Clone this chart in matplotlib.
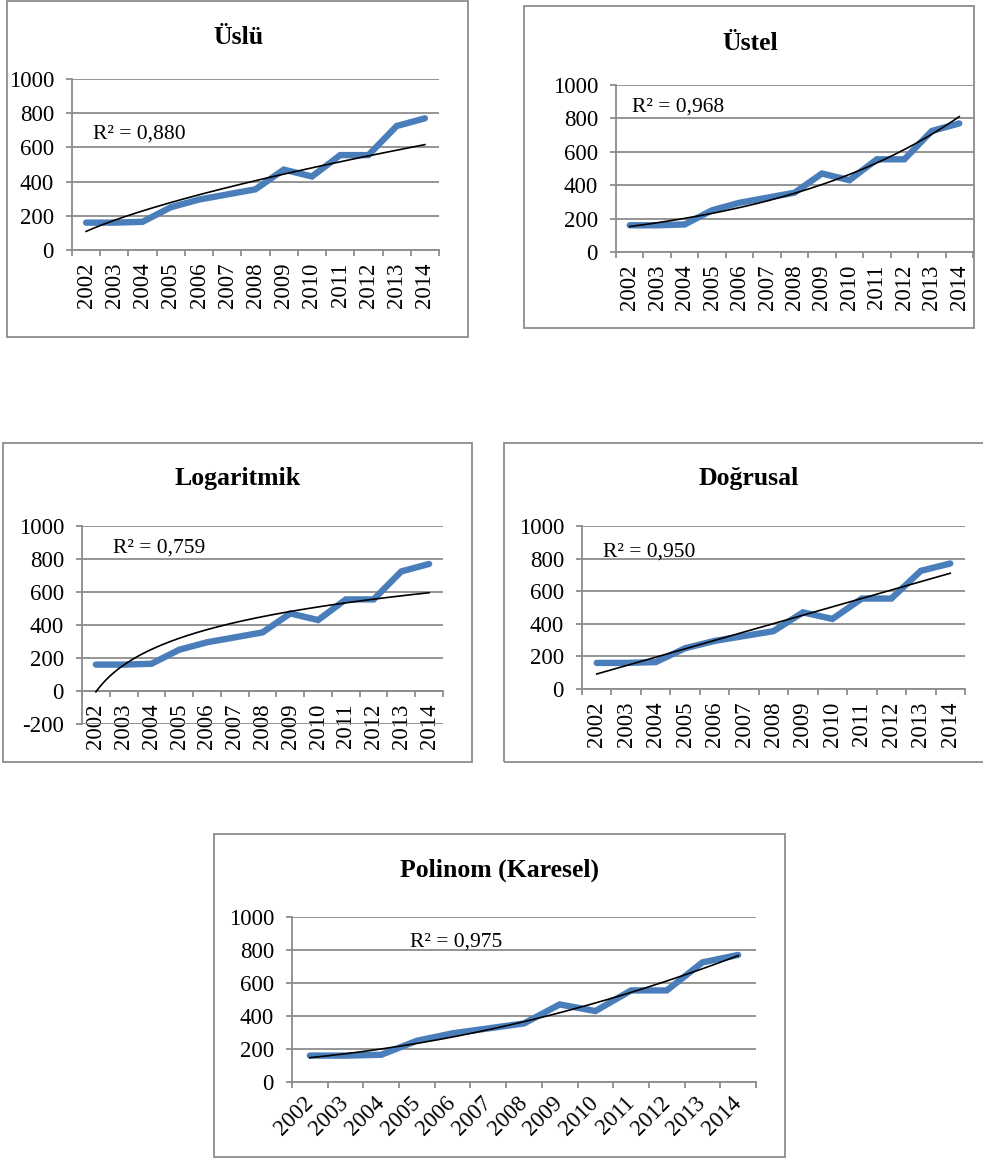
import numpy as np
import matplotlib
matplotlib.use("Agg")
import matplotlib.pyplot as plt
from matplotlib.patches import Rectangle

plt.rcParams['font.family'] = ['Liberation Serif', 'DejaVu Serif']

# ---- data ----
years = ['2002', '2003', '2004', '2005', '2006', '2007', '2008',
         '2009', '2010', '2011', '2012', '2013', '2014']
values = [160, 160, 165, 250, 295, 325, 355, 470, 430, 555, 555, 725, 770]
titles = ['Üslü', 'Üstel', 'Logaritmik', 'Doğrusal', 'Polinom (Karesel)']
r2_labels = ['R² = 0,880', 'R² = 0,968', 'R² = 0,759', 'R² = 0,950', 'R² = 0,975']
y_ticks_main = [0, 200, 400, 600, 800, 1000]
y_ticks_log = [-200, 0, 200, 400, 600, 800, 1000]

W, H = 983, 1158
fig = plt.figure(figsize=(W / 100, H / 100), dpi=100)

BLUE = '#4A7EBB'
GRAY = '#8C8C8C'
TICK_FS = 16.5

x = np.arange(1, len(values) + 1, dtype=float)
y = np.array(values, dtype=float)
xs = np.linspace(1, len(values), 300)


def trend(kind):
    if kind == 'power':
        b, la = np.polyfit(np.log(x), np.log(y), 1)
        return np.exp(la) * xs ** b
    if kind == 'exp':
        b, la = np.polyfit(x, np.log(y), 1)
        return np.exp(la) * np.exp(b * xs)
    if kind == 'log':
        b, a = np.polyfit(np.log(x), y, 1)
        return a + b * np.log(xs)
    if kind == 'lin':
        return np.polyval(np.polyfit(x, y, 1), xs)
    return np.polyval(np.polyfit(x, y, 2), xs)


def fx(px):
    return px / W


def fy(py):
    return 1 - py / H


def border(l, t, r, b):
    fig.add_artist(Rectangle((fx(l), fy(b)), fx(r) - fx(l), fy(t) - fy(b),
                             transform=fig.transFigure, fill=False,
                             ec=GRAY, lw=1.3, zorder=0))


def panel(box, axbox, title, title_xy, r2, r2_xy, kind, ylim, yticks, rot):
    border(*box)
    l, t, r, b = axbox
    ax = fig.add_axes([fx(l), fy(b), fx(r) - fx(l), fy(t) - fy(b)])
    pos = np.arange(len(values))
    ax.plot(pos, values, color=BLUE, lw=4.6, solid_capstyle='round',
            solid_joinstyle='miter', zorder=3)
    ax.plot(xs - 1, trend(kind), color='black', lw=1.2, zorder=4)
    ax.set_xlim(-0.5, len(values) - 0.5)
    ax.set_ylim(*ylim)
    ax.set_yticks(yticks)
    ax.set_yticklabels([str(v) for v in yticks])
    ax.grid(axis='y', color=GRAY, lw=1.3, zorder=1)
    ax.set_axisbelow(True)
    for s in ['top', 'right']:
        ax.spines[s].set_visible(False)
    for s in ['left', 'bottom']:
        ax.spines[s].set_color(GRAY)
        ax.spines[s].set_linewidth(1.3)
    if ylim[0] < 0:
        ax.spines['bottom'].set_position(('data', 0))
    ax.set_xticks(np.arange(-0.5, len(values), 1.0))
    ax.set_xticklabels([])
    ax.set_xticks(pos, minor=True)
    ax.tick_params(axis='x', which='major', direction='out', length=4.5,
                   width=1.3, color=GRAY)
    ax.tick_params(axis='y', which='major', direction='out', length=4,
                   width=1.3, color=GRAY, labelsize=TICK_FS, pad=9)
    if rot == 90:
        ax.set_xticklabels(years, minor=True, rotation=90, fontsize=TICK_FS)
        ax.tick_params(axis='x', which='minor', length=0, pad=9)
    else:
        ax.set_xticklabels(years, minor=True, rotation=45, fontsize=TICK_FS,
                           ha='right', va='center', rotation_mode='anchor')
        ax.tick_params(axis='x', which='minor', length=0, pad=13)
    ax.set_facecolor('none')
    fig.text(fx(title_xy[0]), fy(title_xy[1]), title, ha='center',
             va='center', fontsize=18.5, fontweight='bold')
    fig.text(fx(r2_xy[0]), fy(r2_xy[1]), r2, ha='left', va='center',
             fontsize=15.5)
    return ax


panel((7, 0.5, 468, 337), (72, 79, 439, 250), titles[0], (238, 37),
      r2_labels[0], (93, 134), 'power', (0, 1000), y_ticks_main, 90)
panel((524, 6, 974, 328), (616, 85, 973, 252), titles[1], (750, 43),
      r2_labels[1], (632, 107), 'exp', (0, 1000), y_ticks_main, 90)
panel((3, 443, 472, 762), (82, 526, 443, 724), titles[2], (238, 479),
      r2_labels[2], (113, 548), 'log', (-200, 1000), y_ticks_log, 90)
panel((504, 443, 995, 762), (582, 526, 965, 689), titles[3], (749, 479),
      r2_labels[3], (603, 552), 'lin', (0, 1000), y_ticks_main, 90)
panel((214, 834, 785, 1157), (292, 917, 756, 1082), titles[4], (499, 870),
      r2_labels[4], (410, 942), 'poly', (0, 1000), y_ticks_main, 45)

fig.savefig('out.png', dpi=100, facecolor='white')
